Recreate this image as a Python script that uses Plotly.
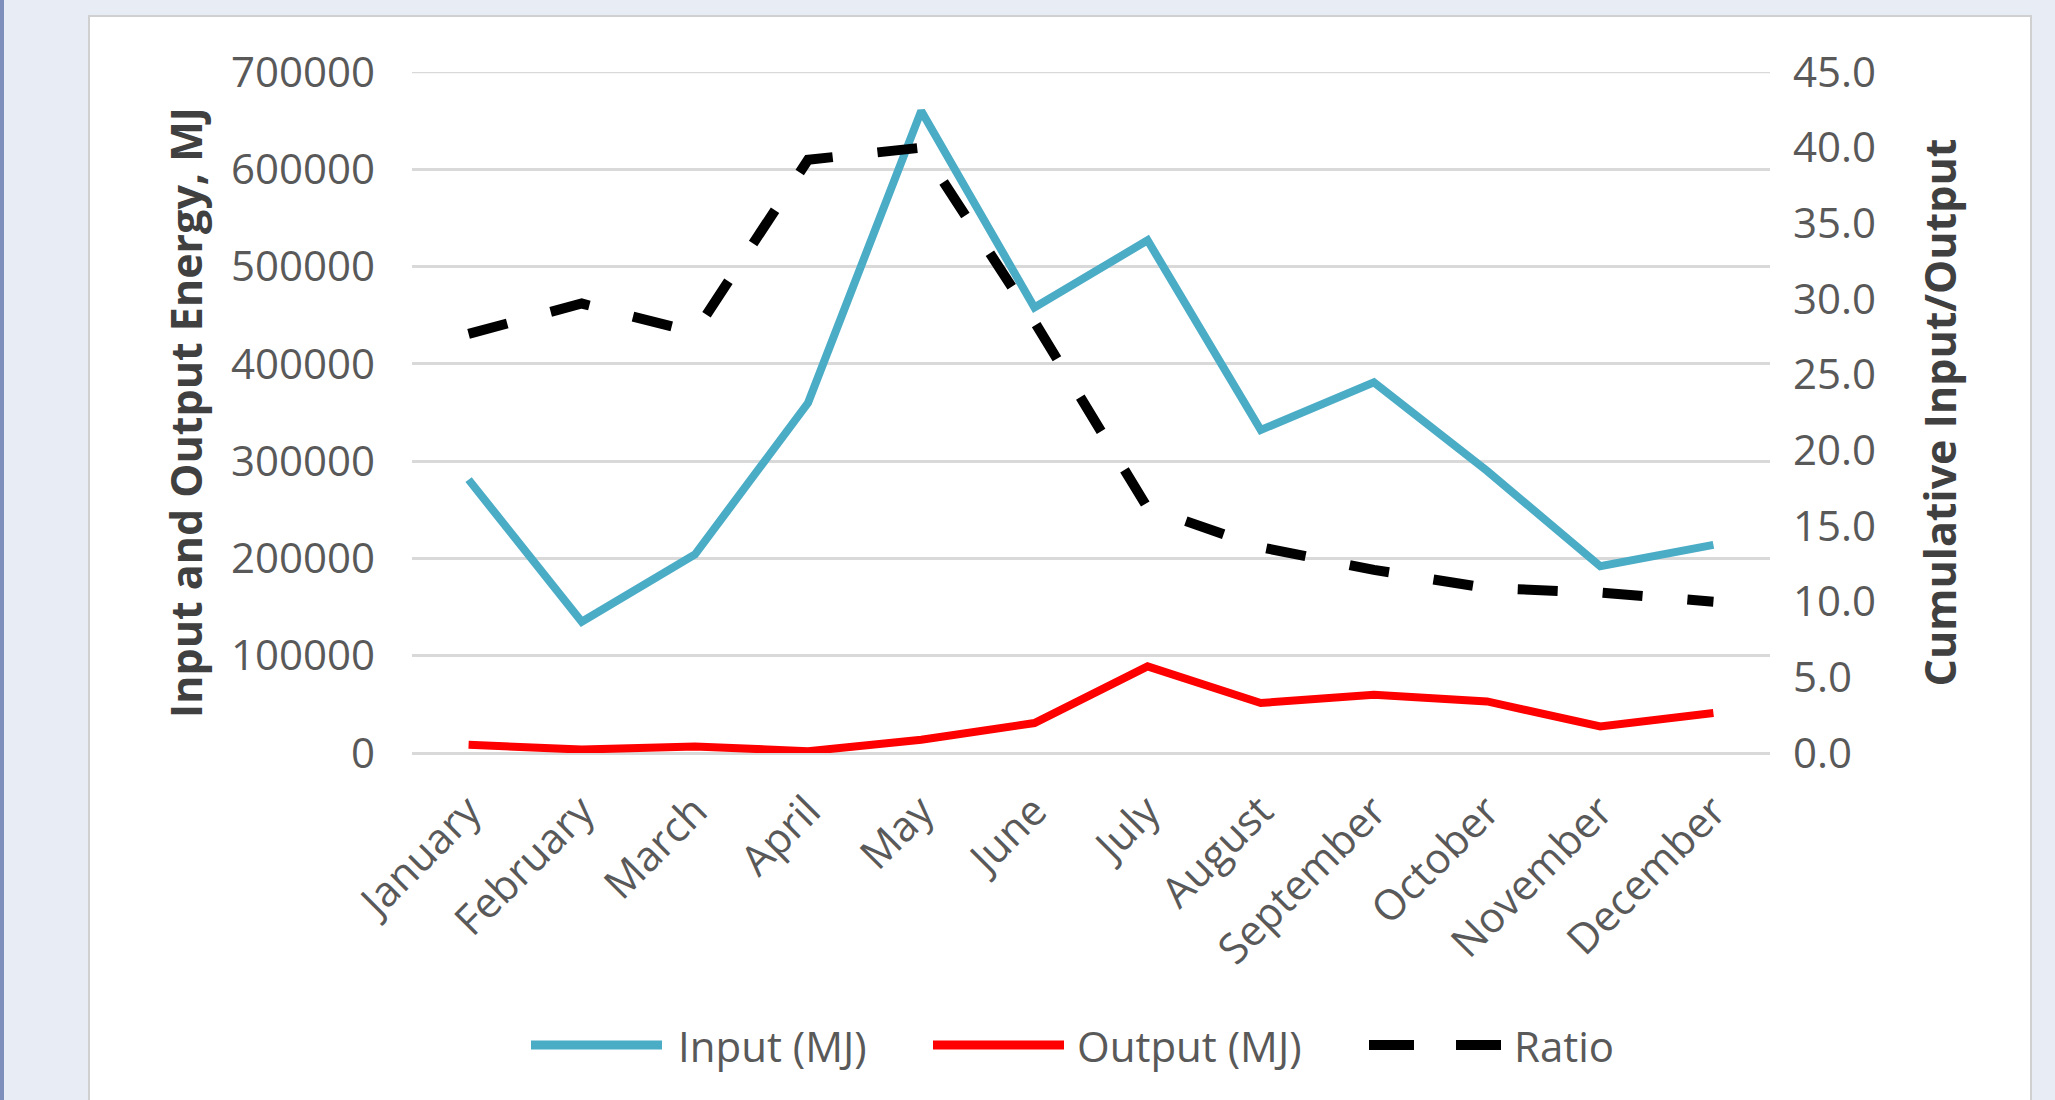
import plotly.graph_objects as go

months = ["January", "February", "March", "April", "May", "June", "July",
          "August", "September", "October", "November", "December"]
input_mj = [281000, 135000, 204000, 360000, 660000, 458000, 527000,
            332000, 381000, 290000, 192000, 214000]
output_mj = [8500, 3500, 6800, 1800, 13700, 30800, 89000,
             51400, 59900, 53000, 27300, 41100]
ratio = [27.7, 29.7, 27.8, 39.2, 40.0, 28.5, 16.2,
         13.6, 12.1, 10.9, 10.6, 10.0]

left_ticks = [0, 100000, 200000, 300000, 400000, 500000, 600000, 700000]
right_ticks = [0, 5, 10, 15, 20, 25, 30, 35, 40, 45]

BLUE = "#4BACC6"
RED = "#FF0000"
BLACK = "#000000"
GRID = "#D9D9D9"
TXT = "#595959"
TITLE = "#404040"
FONT = "Open Sans"
TICK_SIZE = 42
TITLE_SIZE = 43

W, H = 2055, 1100
L, R, T, B = 412, 285, 72, 347
PW, PH = W - L - R, H - T - B

Y1_MAX = left_ticks[-1]
Y2_MAX = right_ticks[-1]


def px(x):
    return (x - L) / PW


def py(y):
    return (H - B - y) / PH


fig = go.Figure()
fig.add_trace(go.Scatter(x=months, y=input_mj, name="Input (MJ)", mode="lines",
                         line=dict(color=BLUE, width=8), showlegend=False))
fig.add_trace(go.Scatter(x=months, y=output_mj, name="Output (MJ)", mode="lines",
                         line=dict(color=RED, width=8), showlegend=False))
fig.add_trace(go.Scatter(x=months, y=ratio, name="Ratio", mode="lines", yaxis="y2",
                         line=dict(color=BLACK, width=10, dash="40px,45px"),
                         showlegend=False))

shapes = [
    # left dark strip of the window
    dict(type="rect", xref="paper", yref="paper", x0=px(0), x1=px(4), y0=py(1110), y1=py(-10),
         fillcolor="#7D8FBA", line=dict(width=0), layer="below"),
    # white chart panel
    dict(type="rect", xref="paper", yref="paper", x0=px(89), x1=px(2031), y0=py(1120), y1=py(16),
         fillcolor="white", line=dict(color="#D0D0D0", width=2), layer="below"),
    # top gridline at the range edge (plotly clips gridlines at the edge)
    dict(type="line", xref="paper", yref="y", x0=0, x1=1, y0=Y1_MAX, y1=Y1_MAX,
         line=dict(color=GRID, width=2.5), layer="below"),
]

# custom legend
leg_y = py(1045)
legend_items = [
    ("Input (MJ)", BLUE, [(531, 662)], 676),
    ("Output (MJ)", RED, [(933, 1064)], 1075),
    ("Ratio", BLACK, [(1369, 1414), (1456, 1501)], 1512),
]
annotations = []
for label, color, segs, tx in legend_items:
    for a, b in segs:
        shapes.append(dict(type="line", xref="paper", yref="paper", x0=px(a), x1=px(b),
                           y0=leg_y, y1=leg_y,
                           line=dict(color=color, width=10 if color == BLACK else 9)))
    annotations.append(dict(xref="paper", yref="paper", x=px(tx), y=leg_y, text=label,
                            showarrow=False, xanchor="left", yanchor="middle",
                            font=dict(family=FONT, size=TICK_SIZE, color=TXT)))

fig.update_layout(
    width=W, height=H, autosize=False,
    margin=dict(l=L, r=R, t=T, b=B, pad=0),
    paper_bgcolor="#E8ECF5", plot_bgcolor="white",
    font=dict(family=FONT, size=TICK_SIZE, color=TXT),
    shapes=shapes, annotations=annotations, showlegend=False,
    xaxis=dict(type="category", range=[-0.5, 11.5], tickangle=-45, showgrid=False,
               showline=False, ticks="", zeroline=False, ticklabelstandoff=24,
               tickfont=dict(family=FONT, size=TICK_SIZE, color=TXT)),
    yaxis=dict(range=[0, Y1_MAX], tickvals=left_ticks, tickformat="d", showgrid=True,
               gridcolor=GRID, gridwidth=2.5, zeroline=True, zerolinecolor=GRID,
               zerolinewidth=2.5, showline=False, ticks="", ticklabelstandoff=36,
               tickfont=dict(family=FONT, size=TICK_SIZE, color=TXT),
               title=dict(text="<b>Input and Output Energy, MJ</b>", standoff=14,
                          font=dict(family=FONT, size=TITLE_SIZE, color=TITLE))),
    yaxis2=dict(range=[0, Y2_MAX], tickvals=right_ticks, tickformat=".1f", overlaying="y",
                side="right", showgrid=False, zeroline=False, showline=False, ticks="",
                ticklabelstandoff=22, tickfont=dict(family=FONT, size=TICK_SIZE, color=TXT),
                title=dict(text="<b>Cumulative Input/Output</b>", standoff=50,
                           font=dict(family=FONT, size=TITLE_SIZE, color=TITLE))),
)

fig.write_html("out.html")
